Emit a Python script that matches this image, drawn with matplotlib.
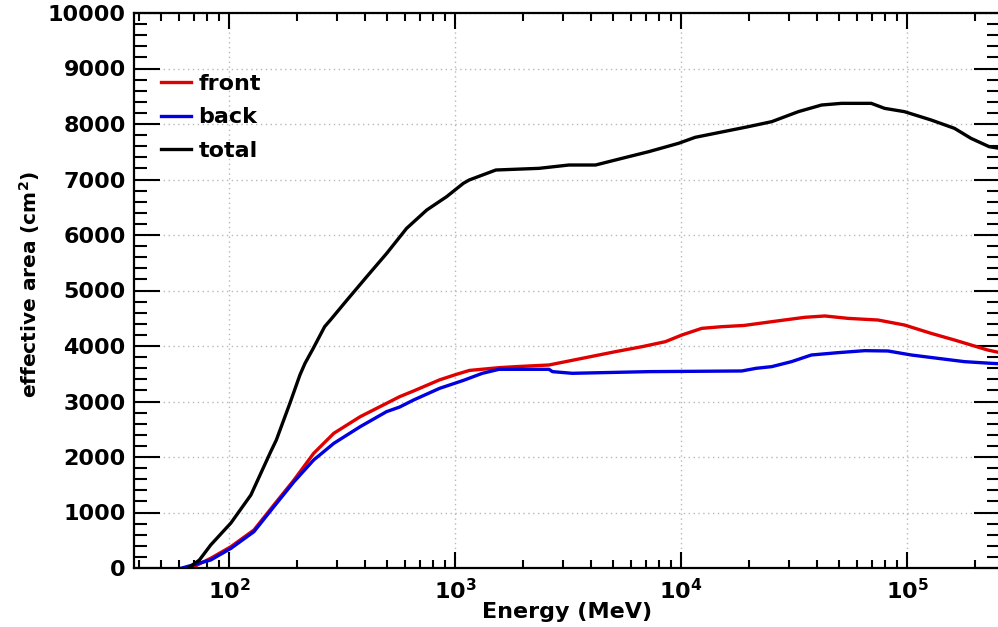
import matplotlib
matplotlib.use("Agg")
import matplotlib.pyplot as plt
from matplotlib.ticker import FixedLocator, LogLocator, NullFormatter, FuncFormatter, MultipleLocator
import numpy as np

# Effective area vs. energy for front, back and total event classes
energy_front = [68, 83, 102, 129, 158, 194, 237, 291, 381, 498, 569, 656, 749, 855, 1016,
                1159, 1570, 1858, 2607, 3656, 5130, 6730, 8530, 10090, 12360, 15140, 19000,
                25200, 35320, 43350, 54830, 74470, 97500, 127900, 162200, 227500, 258000]
area_front = [0, 174, 384, 685, 1135, 1586, 2066, 2427, 2727, 2967, 3087, 3190, 3290, 3390, 3490,
              3560, 3610, 3628, 3658, 3778, 3898, 3988, 4078, 4198, 4318, 4348, 4370,
              4438, 4517, 4541, 4498, 4468, 4378, 4228, 4108, 3928, 3880]

energy_back = [62, 83, 102, 129, 158, 194, 237, 291, 381, 498, 569, 656, 855, 1089, 1322,
               1567, 2607, 2700, 3304, 7195, 18580, 21500, 25200, 30830, 37760, 49550,
               65010, 82410, 104500, 136800, 179500, 235500, 258000]
area_back = [0, 144, 354, 655, 1105, 1555, 1946, 2246, 2547, 2817, 2900, 3027, 3237, 3380, 3508,
             3580, 3580, 3538, 3508, 3538, 3550, 3598, 3628, 3718, 3838, 3880,
             3916, 3910, 3838, 3778, 3718, 3688, 3680]

energy_total = [66, 74, 83, 102, 125, 153, 162, 186, 206, 217, 236, 265, 281, 333, 407, 499,
                611, 750, 918, 1089, 1156, 1517, 2354, 3192, 4188, 5480, 7195, 9756, 11560,
                14160, 19860, 25200, 33040, 41880, 51290, 69500, 79620, 97500, 127900,
                162200, 191900, 231200, 258000]
area_total = [0, 144, 414, 811, 1315, 2096, 2306, 2967, 3477, 3688, 3958, 4348, 4468, 4829,
              5249, 5670, 6120, 6450, 6690, 6931, 6991, 7171, 7201, 7261, 7261, 7381, 7501,
              7652, 7760, 7832, 7952, 8042, 8222, 8342, 8372, 8372, 8282, 8222, 8072, 7922,
              7742, 7591, 7560]

series_labels = ["front", "back", "total"]
series_colors = ["#e00000", "#0000e0", "#000000"]

x_range = (38, 2.58e5)
y_range = (0, 10000)
y_major_ticks = [0, 1000, 2000, 3000, 4000, 5000, 6000, 7000, 8000, 9000, 10000]
x_label = "Energy (MeV)"
y_label = r"effective area (cm$^{\mathbf{2}}$)"

plt.rcParams["font.family"] = ["DejaVu Sans"]
plt.rcParams["font.weight"] = "bold"
plt.rcParams["mathtext.fontset"] = "dejavusans"

fig = plt.figure(figsize=(9.98, 6.27), dpi=100)
ax = fig.add_axes([134 / 998, 59 / 627, 866 / 998, 555 / 627])

for e, a, lab, col in zip([energy_front, energy_back, energy_total],
                          [area_front, area_back, area_total],
                          series_labels, series_colors):
    ax.plot(e, a, color=col, lw=2.4, label=lab)

ax.set_xscale("log")
ax.set_xlim(*x_range)
ax.set_ylim(*y_range)

ax.yaxis.set_major_locator(FixedLocator(y_major_ticks))
ax.yaxis.set_minor_locator(MultipleLocator(200))
ax.xaxis.set_major_locator(LogLocator(base=10, numticks=20))
ax.xaxis.set_minor_locator(LogLocator(base=10, subs=np.arange(2, 10), numticks=100))
ax.xaxis.set_minor_formatter(NullFormatter())
ax.xaxis.set_major_formatter(FuncFormatter(
    lambda v, p: r"$\mathbf{10^{%d}}$" % int(round(np.log10(v)))))

ax.tick_params(axis="both", which="both", direction="in", top=True, right=True,
               colors="black", width=1.5)
ax.tick_params(axis="x", which="major", length=11.5, pad=7, labelsize=16)
ax.tick_params(axis="x", which="minor", length=6)
ax.tick_params(axis="y", which="major", length=19, pad=6, labelsize=16)
ax.tick_params(axis="y", which="minor", length=9.5)

for sp in ax.spines.values():
    sp.set_linewidth(1.6)

ax.grid(True, which="major", color="#b8b8b8", linestyle=(0, (1, 2.5)), linewidth=1.0)

ax.set_xlabel(x_label, fontsize=16, fontweight="bold")
ax.xaxis.set_label_coords(0.5, -0.062)
ax.set_ylabel(y_label, fontsize=14.5, fontweight="bold")
ax.yaxis.set_label_coords(-0.106, 0.51)

leg = ax.legend(loc="upper left", bbox_to_anchor=(0.031, 0.89), frameon=False,
                fontsize=16, handlelength=1.35, handletextpad=0.35,
                labelspacing=0.6, borderpad=0, borderaxespad=0)
for t in leg.get_texts():
    t.set_fontweight("bold")

fig.savefig("out.png", dpi=100)
